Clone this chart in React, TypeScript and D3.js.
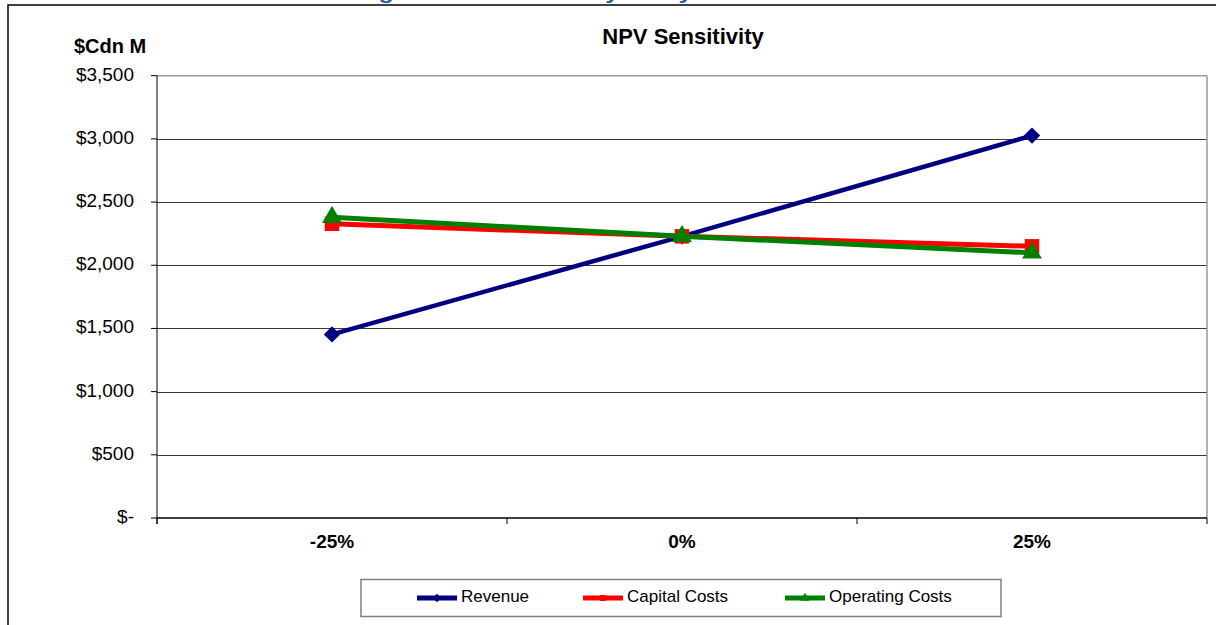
import React from 'react';
import * as d3 from 'd3';

const categories = ['-25%', '0%', '25%'];
const revenue = [1453, 2229, 3026];
const capitalCosts = [2328, 2229, 2150];
const operatingCosts = [2380, 2229, 2098];
const yTicks = [0, 500, 1000, 1500, 2000, 2500, 3000, 3500];

type Series = { name: string; values: number[]; color: string; width: number; marker: 'diamond' | 'square' | 'triangle' };

const series: Series[] = [
  { name: 'Revenue', values: revenue, color: '#000080', width: 4.5, marker: 'diamond' },
  { name: 'Capital Costs', values: capitalCosts, color: '#ff0000', width: 5, marker: 'square' },
  { name: 'Operating Costs', values: operatingCosts, color: '#008000', width: 5, marker: 'triangle' },
];

const W = 1216;
const H = 625;
const plot = { left: 157, right: 1207, top: 75.7, bottom: 518 };

const fmtY = (v: number) => (v === 0 ? '$-' : '$' + d3.format(',')(v));

// diamonds are squares turned by 45 degrees, the Excel way (not d3's tall diamond)
const symbolFor = (m: Series['marker'], size: number) => {
  const type = m === 'triangle' ? d3.symbolTriangle : d3.symbolSquare;
  return d3.symbol().type(type).size(size)() as string;
};
const rot = (m: Series['marker']) => (m === 'diamond' ? ' rotate(45)' : '');

const App: React.FC = () => {
  const x = d3.scaleBand<string>().domain(categories).range([plot.left, plot.right]);
  const y = d3.scaleLinear().domain([0, 3500]).range([plot.bottom, plot.top]);
  const cx = (c: string) => (x(c) ?? 0) + x.bandwidth() / 2;

  const line = d3.line<number>()
    .x((_, i) => cx(categories[i]))
    .y(d => y(d));

  const markerSize: Record<Series['marker'], number> = { diamond: 135, square: 210, triangle: 170 };
  const legendX = [417, 583, 785];

  return (
    <svg width={W} height={H} style={{ position: 'absolute', left: 0, top: 0, display: 'block', background: '#fff' }}
      fontFamily="Arial, 'Liberation Sans', sans-serif">
      {/* caption cut off by the page top */}
      <text x={633} y={-1} textAnchor="middle" fontSize={19} fontWeight="bold" fill="#2f5597"
        textLength={553} lengthAdjust="spacingAndGlyphs">
        Figure 16-1 Sensitivity Analysis – Post-tax NPV
      </text>

      {/* chart frame */}
      <rect x={8} y={5} width={1230} height={640} fill="none" stroke="#000" strokeWidth={1.5} />

      <text x={683} y={38} textAnchor="middle" dominantBaseline="middle" fontSize={22} fontWeight="bold">NPV Sensitivity</text>
      <text x={110} y={48} textAnchor="middle" dominantBaseline="middle" fontSize={20} fontWeight="bold">$Cdn M</text>

      {/* gridlines */}
      {yTicks.filter(t => t > 0 && t < 3500).map(t => (
        <line key={t} x1={plot.left} x2={plot.right} y1={Math.round(y(t)) + 0.5} y2={Math.round(y(t)) + 0.5}
          stroke="#3a3a3a" strokeWidth={1} />
      ))}
      <line x1={plot.left} x2={plot.right} y1={plot.top} y2={plot.top} stroke="#999" strokeWidth={1.5} />
      <line x1={plot.right} x2={plot.right} y1={plot.top} y2={plot.bottom} stroke="#999" strokeWidth={1.5} />

      {/* y axis */}
      <line x1={plot.left} x2={plot.left} y1={plot.top} y2={plot.bottom + 6} stroke="#000" strokeWidth={1} />
      {yTicks.map(t => (
        <g key={t}>
          <line x1={plot.left - 6} x2={plot.left} y1={y(t)} y2={y(t)} stroke="#000" strokeWidth={1} />
          <text x={134} y={y(t)} textAnchor="end" dominantBaseline="middle" fontSize={19}>{fmtY(t)}</text>
        </g>
      ))}

      {/* x axis */}
      <line x1={plot.left} x2={plot.right} y1={plot.bottom} y2={plot.bottom} stroke="#000" strokeWidth={1.5} />
      {[...categories.map(c => x(c) ?? 0), plot.right].map((v, i) => (
        <line key={i} x1={v} x2={v} y1={plot.bottom} y2={plot.bottom + 6} stroke="#000" strokeWidth={1} />
      ))}
      {categories.map(c => (
        <text key={c} x={cx(c)} y={543} textAnchor="middle" dominantBaseline="middle" fontSize={19} fontWeight="bold">{c}</text>
      ))}

      {/* series */}
      {series.map(s => (
        <g key={s.name}>
          <path d={line(s.values) ?? ''} fill="none" stroke={s.color} strokeWidth={s.width} strokeLinejoin="round" />
          {s.values.map((v, i) => (
            <path key={i} d={symbolFor(s.marker, markerSize[s.marker])}
              transform={`translate(${cx(categories[i])},${y(v)})${rot(s.marker)}`} fill={s.color} />
          ))}
        </g>
      ))}

      {/* legend */}
      <rect x={361} y={579.5} width={640} height={37} fill="#fff" stroke="#808080" strokeWidth={1.5} />
      {series.map((s, i) => (
        <g key={s.name} transform={`translate(${legendX[i]},598)`}>
          <line x1={0} x2={40} y1={0} y2={0} stroke={s.color} strokeWidth={5} />
          <path d={symbolFor(s.marker, 36)} transform={`translate(20,0)${rot(s.marker)}`} fill={s.color} />
          <text x={44} y={0} dominantBaseline="middle" fontSize={17}>{s.name}</text>
        </g>
      ))}
    </svg>
  );
};

export default App;
